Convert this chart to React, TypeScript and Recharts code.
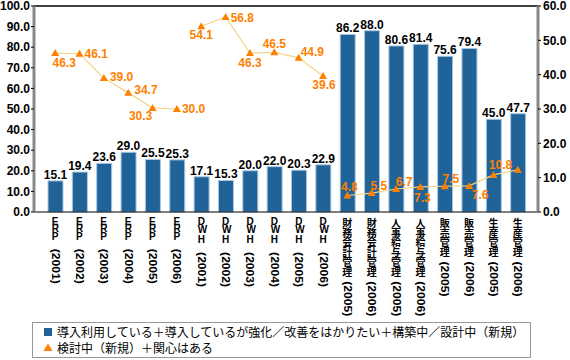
import React from 'react';
import { ComposedChart, Bar, Line, XAxis, YAxis, LabelList, ReferenceLine } from 'recharts';

const categories = [
  'ERP(2001)', 'ERP(2002)', 'ERP(2003)', 'ERP(2004)', 'ERP(2005)', 'ERP(2006)',
  'DWH(2001)', 'DWH(2002)', 'DWH(2003)', 'DWH(2004)', 'DWH(2005)', 'DWH(2006)',
  '財務会計管理(2005)', '財務会計管理(2006)', '人事給与管理(2005)', '人事給与管理(2006)',
  '販売管理(2005)', '販売管理(2006)', '生産管理(2005)', '生産管理(2006)',
];

// 導入利用している＋導入しているが強化／改善をはかりたい＋構築中／設計中（新規）
const adopted = [15.1, 19.4, 23.6, 29.0, 25.5, 25.3, 17.1, 15.3, 20.0, 22.0, 20.3, 22.9, 86.2, 88.0, 80.6, 81.4, 75.6, 79.4, 45.0, 47.7];

// 検討中（新規）＋関心はある — three separate line segments
const erpLine = [46.3, 46.1, 39.0, 34.7, 30.3, 30.0];
const dwhLine = [54.1, 56.8, 46.3, 46.5, 44.9, 39.6];
const appLine = [4.8, 5.5, 6.7, 7.3, 7.5, 7.6, 10.8, 12.3];

const leftTicks = [0, 10, 20, 30, 40, 50, 60, 70, 80, 90, 100];
const rightTicks = [0, 10, 20, 30, 40, 50, 60];

const BLUE = '#1f6399';
const ORANGE = '#ff8000';
const NUM_FONT = '"Liberation Sans", Arial, sans-serif';
const JP_FONT = '"Noto Sans CJK JP", sans-serif';

const data = categories.map((cat, i) => ({
  cat,
  adopted: adopted[i],
  erp: i < 6 ? erpLine[i] : null,
  dwh: i >= 6 && i < 12 ? dwhLine[i - 6] : null,
  app: i >= 12 ? appLine[i - 12] : null,
}));

// label placement per point: [dx, dy, anchor]
const erpOffsets: any[] = [[9, 10, 'middle'], [5, 0, 'start'], [6, -1, 'start'], [6, -3, 'start'], [-12, 8, 'middle'], [5, 0, 'start']];
const dwhOffsets: any[] = [[0, 9, 'middle'], [5, 1, 'start'], [0, 10, 'middle'], [0, -8, 'middle'], [2, -6, 'start'], [1, 9, 'middle']];
const appOffsets: any[] = [[2, -9, 'middle'], [7, -7, 'middle'], [8, -7, 'middle'], [2, 11, 'middle'], [6, -7, 'middle'], [11, 9, 'middle'], [7, -10, 'middle'], null];

const makeLineLabel = (offsets: any[], start: number) => (props: any) => {
  const { x, y, value, index } = props;
  if (value == null || x == null || y == null) return null;
  const o = offsets[index - start] ?? offsets[index];
  if (!o) return null;
  return (
    <text
      x={x + o[0]}
      y={y + o[1]}
      textAnchor={o[2]}
      dominantBaseline="central"
      fill={ORANGE}
      fontFamily={NUM_FONT}
      fontWeight="bold"
      fontSize={12}
    >
      {Number(value).toFixed(1)}
    </text>
  );
};

const Triangle = (props: any) => {
  const { cx, cy, index, value } = props;
  if (cx == null || cy == null || value == null) return <g key={`t${index}`} />;
  return (
    <polygon
      key={`t${index}`}
      points={`${cx},${cy - 4} ${cx - 4},${cy + 3} ${cx + 4},${cy + 3}`}
      fill={ORANGE}
    />
  );
};

// whole label is one text turned 90deg; the name glyphs are turned back upright
function CategoryTick({ x, y, payload }: any) {
  const label = String(payload.value);
  const p = label.indexOf('(');
  const head = label.slice(0, p);
  const year = label.slice(p);
  const ascii = /^[A-Z]+$/.test(head);
  return (
    <text
      transform={`translate(${x - 3.5},${y}) rotate(90)`}
      fill="#000"
      fontWeight="bold"
      fontSize={10}
      fontFamily={NUM_FONT}
    >
      <tspan
        x={ascii ? 13.2 : 14.8}
        y={ascii ? 0 : 1.5}
        rotate="-90"
        letterSpacing={ascii ? 0.5 : -0.2}
        fontFamily={ascii ? NUM_FONT : JP_FONT}
      >
        {head}
      </tspan>
      <tspan
        y={0}
        dx={ascii ? 1.5 : -4.5}
        fontSize={10}
        fontFamily={NUM_FONT}
        textLength={35}
        lengthAdjust="spacingAndGlyphs"
      >
        {year}
      </tspan>
    </text>
  );
}

const axisTick = { fill: '#000', fontSize: 12, fontWeight: 'bold', fontFamily: NUM_FONT };

export default function App() {
  return (
    <div style={{ position: 'absolute', left: 0, top: 0, width: 570, height: 360, background: '#fff' }}>
      <ComposedChart width={570} height={360} data={data} margin={{ top: 6, right: 0, bottom: 0, left: 0 }}>
        <XAxis
          dataKey="cat"
          height={148}
          interval={0}
          padding={{ left: 9, right: 8 }}
          tick={<CategoryTick />}
          tickLine={false}
          tickSize={0}
          tickMargin={0}
          axisLine={{ stroke: '#000', strokeWidth: 1 }}
        />
        <YAxis
          yAxisId="left"
          width={34}
          domain={[0, 100]}
          ticks={leftTicks}
          interval={0}
          tickFormatter={(v: number) => v.toFixed(1)}
          tick={axisTick}
          tickSize={3}
          tickMargin={1}
          tickLine={{ stroke: '#000' }}
          axisLine={{ stroke: '#888', strokeWidth: 3 }}
        />
        <YAxis
          yAxisId="right"
          orientation="right"
          width={32}
          domain={[0, 60]}
          ticks={rightTicks}
          interval={0}
          tickFormatter={(v: number) => v.toFixed(1)}
          tick={axisTick}
          tickSize={3}
          tickMargin={2}
          tickLine={{ stroke: '#000' }}
          axisLine={{ stroke: '#888', strokeWidth: 3 }}
        />
        <ReferenceLine yAxisId="left" y={100} stroke="#000" strokeWidth={1.5} />
        <Bar yAxisId="left" dataKey="adopted" barSize={15} fill={BLUE} stroke="#a9c7e0" strokeWidth={1} isAnimationActive={false}>
          <LabelList
            dataKey="adopted"
            position="top"
            offset={2}
            formatter={(v: any) => Number(v).toFixed(1)}
            style={{ fill: '#000', fontSize: 12, fontWeight: 'bold', fontFamily: NUM_FONT }}
          />
        </Bar>
        <Line yAxisId="right" dataKey="erp" stroke="#f7d38a" strokeWidth={1.2} dot={Triangle} activeDot={false} isAnimationActive={false}>
          <LabelList dataKey="erp" content={makeLineLabel(erpOffsets, 0)} />
        </Line>
        <Line yAxisId="right" dataKey="dwh" stroke="#f7d38a" strokeWidth={1.2} dot={Triangle} activeDot={false} isAnimationActive={false}>
          <LabelList dataKey="dwh" content={makeLineLabel(dwhOffsets, 6)} />
        </Line>
        <Line yAxisId="right" dataKey="app" stroke="#f7d38a" strokeWidth={1.2} dot={Triangle} activeDot={false} isAnimationActive={false}>
          <LabelList dataKey="app" content={makeLineLabel(appOffsets, 12)} />
        </Line>
      </ComposedChart>
      <div
        style={{
          position: 'absolute',
          left: 32,
          top: 322,
          width: 497,
          height: 34,
          border: '1px solid #999',
          fontFamily: JP_FONT,
          fontSize: 12,
          color: '#000',
        }}
      >
        <div style={{ position: 'absolute', left: 11, top: 5, width: 8, height: 8, background: BLUE }} />
        <div style={{ position: 'absolute', left: 24, top: 2, lineHeight: '14px', whiteSpace: 'nowrap' }}>
          導入利用している＋導入しているが強化／改善をはかりたい＋構築中／設計中（新規）
        </div>
        <svg style={{ position: 'absolute', left: 10, top: 20 }} width={10} height={9}>
          <polygon points="5,0.5 0.5,8 9.5,8" fill={ORANGE} />
        </svg>
        <div style={{ position: 'absolute', left: 24, top: 18, lineHeight: '14px', whiteSpace: 'nowrap' }}>
          検討中（新規）＋関心はある
        </div>
      </div>
    </div>
  );
}
